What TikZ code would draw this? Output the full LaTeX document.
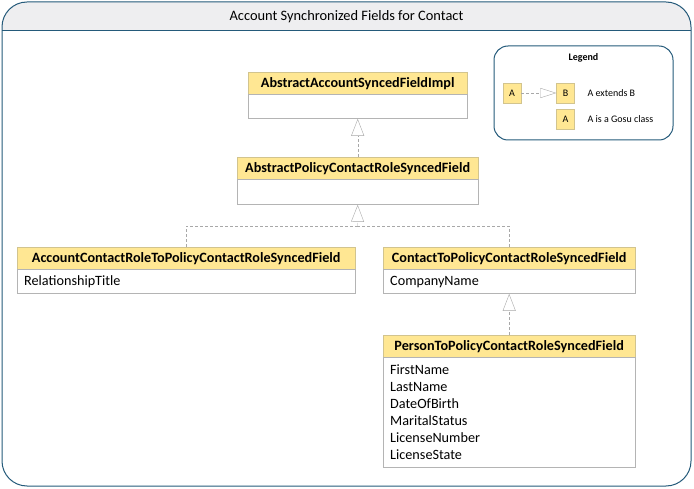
\documentclass[tikz,border=0pt]{standalone}
\usepackage{fontspec}
\setmainfont{Carlito}
\usepackage{xcolor}
\usepackage{tikz}
\usetikzlibrary{arrows.meta,positioning}

\definecolor{frameblue}{HTML}{245A7A}
\definecolor{bandgray}{HTML}{EEEEF0}
\definecolor{hdryellow}{HTML}{FFE793}
\definecolor{hdrline}{HTML}{D2C48E}
\definecolor{boxgray}{HTML}{B4B4B4}
\definecolor{linegray}{HTML}{A8A8A8}

\begin{document}
\begin{tikzpicture}[
  x=1pt, y=-1pt,
  font=\fontsize{14.4}{16}\selectfont,
  cls/.style={draw=hdrline, fill=hdryellow, font=\fontsize{14.2}{16}\selectfont\bfseries, minimum height=22pt, inner sep=0pt},
  attrs/.style={draw=boxgray, fill=white, align=left, inner xsep=7pt, inner ysep=3pt, font=\fontsize{14.2}{17}\selectfont},
  lgbox/.style={draw=hdrline, fill=hdryellow, minimum width=18pt, minimum height=20pt, inner sep=0pt, font=\fontsize{10}{12}\selectfont},
  ext/.style={draw=linegray, dash pattern=on 3pt off 2pt, -{Triangle[open, length=17pt, width=13pt, fill=white]}},
  dline/.style={draw=linegray, dash pattern=on 3pt off 2pt}
]
\useasboundingbox (0,0) rectangle (694,489);

% frame and title band
\begin{scope}
  \clip (0,0) rectangle (694,31);
  \fill[bandgray, rounded corners=25pt] (2,2) rectangle (691,486);
\end{scope}
\draw[frameblue, line width=1pt] (2,31) -- (691,31);
\draw[frameblue, line width=1pt, rounded corners=25pt] (2,2) rectangle (691,486);
\node (title) at (346.5,17) {Account Synchronized Fields for Contact};

% classes
\node[cls, minimum width=219pt, anchor=north west] (implH) at (248,72) {AbstractAccountSyncedFieldImpl};
\node[attrs, text width=205pt, minimum height=24pt, below=0pt of implH] (implB) {};

\node[cls, minimum width=241pt, anchor=north west] (absH) at (237,157) {AbstractPolicyContactRoleSyncedField};
\node[attrs, text width=227pt, minimum height=25pt, below=0pt of absH] (absB) {};

\node[cls, minimum width=338pt, anchor=north west] (acrH) at (17,247) {AccountContactRoleToPolicyContactRoleSyncedField};
\node[attrs, text width=324pt, minimum height=24pt, below=0pt of acrH] (acrB) {RelationshipTitle};

\node[cls, minimum width=252pt, anchor=north west] (ctpH) at (383,247) {ContactToPolicyContactRoleSyncedField};
\node[attrs, text width=238pt, minimum height=24pt, below=0pt of ctpH] (ctpB) {CompanyName};

\node[cls, minimum width=252pt, anchor=north west] (ptpH) at (383,335) {PersonToPolicyContactRoleSyncedField};
\node[attrs, text width=238pt, minimum height=110pt, below=0pt of ptpH] (ptpB) {FirstName\\LastName\\DateOfBirth\\MaritalStatus\\LicenseNumber\\LicenseState};

\coordinate (join) at (357.5,226);

\draw[ext] (absH.north) -- (implB.south);
\draw[dline] (acrH.north) |- (join);
\draw[dline] (ctpH.north) |- (join);
\draw[ext] (join) -- (absB.south);
\draw[ext] (ptpH.north) -- (ctpB.south);

% legend
\node[draw=frameblue, line width=1pt, rounded corners=14pt, minimum width=179pt, minimum height=94pt] (legend) at (583.5,93) {};
\node[font=\fontsize{10}{12}\selectfont\bfseries] (lgTitle) at (583.5,58) {Legend};
\node[lgbox] (lgA) at (512,93) {A};
\node[lgbox] (lgB) at (565.5,93) {B};
\node[lgbox] (lgC) at (565.5,119) {A};
\node[anchor=west, font=\fontsize{10}{12}\selectfont] (lgExt) at (584,93) {A extends B};
\node[anchor=west, font=\fontsize{10}{12}\selectfont] (lgGosu) at (584,119) {A is a Gosu class};
\draw[ext, -{Triangle[open, length=16pt, width=10pt, fill=white]}] (lgA) -- (lgB);
\end{tikzpicture}
\end{document}
